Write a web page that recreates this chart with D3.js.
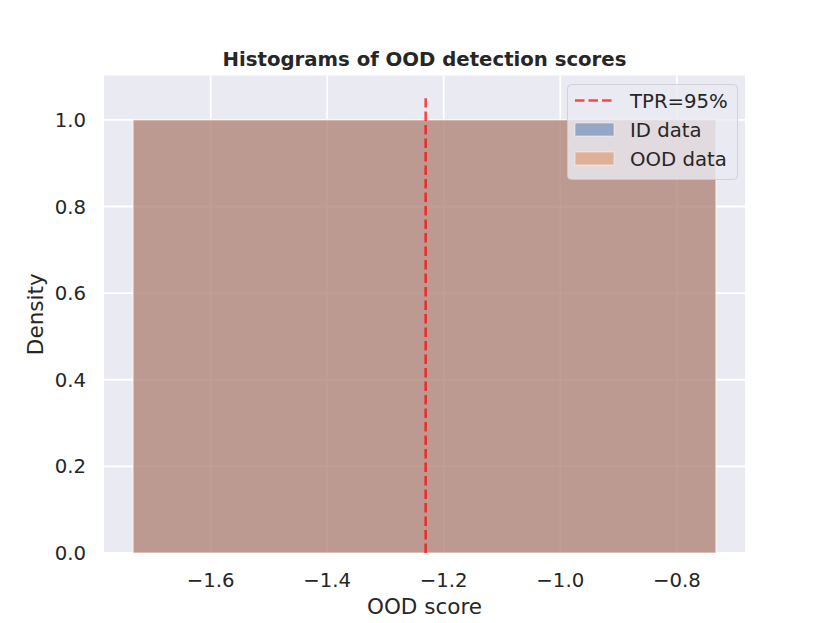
<!DOCTYPE html>
<html>
<head>
<meta charset="utf-8">
<script src="https://cdn.jsdelivr.net/npm/d3@7"></script>
<style>
  body { margin: 0; background: #fff; }
  text { font-family: "DejaVu Sans", sans-serif; fill: #262626; }
</style>
</head>
<body>
<svg id="chart" width="830" height="623"></svg>
<script>
// Histogram bins (one bin per series) and the threshold line
const binEdges = [-1.733, -0.733];
const idDensity = [1.0];
const oodDensity = [1.0];
const threshold = -1.231;
const thresholdTop = 1.05;
const xTicks = [-1.6, -1.4, -1.2, -1.0, -0.8];
const yTicks = [0.0, 0.2, 0.4, 0.6, 0.8, 1.0];
const legendLabels = ['TPR=95%', 'ID data', 'OOD data'];

const svg = d3.select('#chart');

const margin = {left: 104, right: 85, top: 75.5, bottom: 70};
const width = 830, height = 623;
const FONT = 19.7;

// matplotlib style 5% margins
const xScale = d3.scaleLinear()
  .domain([binEdges[0] - 0.05, binEdges[binEdges.length - 1] + 0.05])
  .range([margin.left, width - margin.right]);

const yScale = d3.scaleLinear()
  .domain([0, thresholdTop * 1.05])
  .range([height - margin.bottom, margin.top]);

// Background
svg.append('rect')
  .attr('x', margin.left)
  .attr('y', margin.top)
  .attr('width', width - margin.left - margin.right)
  .attr('height', height - margin.top - margin.bottom)
  .attr('fill', '#EAEAF2');

// Grid
svg.append('g')
  .selectAll('line')
  .data(xTicks)
  .enter()
  .append('line')
  .attr('x1', d => xScale(d))
  .attr('x2', d => xScale(d))
  .attr('y1', margin.top)
  .attr('y2', height - margin.bottom)
  .attr('stroke', '#fff')
  .attr('stroke-width', 1.8);

svg.append('g')
  .selectAll('line')
  .data(yTicks)
  .enter()
  .append('line')
  .attr('x1', margin.left)
  .attr('x2', width - margin.right)
  .attr('y1', d => yScale(d))
  .attr('y2', d => yScale(d))
  .attr('stroke', '#fff')
  .attr('stroke-width', 1.8);

// Bars
function drawBars(values, color) {
  svg.append('g')
    .selectAll('rect')
    .data(values)
    .enter()
    .append('rect')
    .attr('x', (d, i) => xScale(binEdges[i]))
    .attr('width', (d, i) => xScale(binEdges[i + 1]) - xScale(binEdges[i]))
    .attr('y', d => yScale(d))
    .attr('height', d => yScale(0) - yScale(d))
    .attr('fill', color)
    .attr('fill-opacity', 0.5)
    .attr('stroke', '#fff')
    .attr('stroke-opacity', 0.5)
    .attr('stroke-width', 1);
}
drawBars(idDensity, '#4C72B0');
drawBars(oodDensity, '#DD8452');

// Threshold line
svg.append('line')
  .attr('x1', xScale(threshold))
  .attr('x2', xScale(threshold))
  .attr('y1', yScale(0))
  .attr('y2', yScale(thresholdTop))
  .attr('stroke', '#FF0000')
  .attr('stroke-opacity', 0.7)
  .attr('stroke-width', 2.6)
  .attr('stroke-dasharray', '9.5,4');

// Tick labels
svg.append('g')
  .selectAll('text')
  .data(xTicks)
  .enter()
  .append('text')
  .attr('x', d => xScale(d))
  .attr('y', height - margin.bottom + 34)
  .attr('text-anchor', 'middle')
  .attr('font-size', FONT)
  .text(d => d3.format('.1f')(d).replace('-', '\u2212'));

svg.append('g')
  .selectAll('text')
  .data(yTicks)
  .enter()
  .append('text')
  .attr('x', margin.left - 18)
  .attr('y', d => yScale(d) + 7)
  .attr('text-anchor', 'end')
  .attr('font-size', FONT)
  .text(d => d3.format('.1f')(d));

// Axis labels and title
svg.append('text')
  .attr('x', (margin.left + width - margin.right) / 2)
  .attr('y', 614)
  .attr('text-anchor', 'middle')
  .attr('font-size', 21.5)
  .text('OOD score');

svg.append('text')
  .attr('transform', `translate(43, ${(margin.top + height - margin.bottom) / 2}) rotate(-90)`)
  .attr('text-anchor', 'middle')
  .attr('font-size', 21.5)
  .text('Density');

svg.append('text')
  .attr('x', (margin.left + width - margin.right) / 2)
  .attr('y', 66)
  .attr('text-anchor', 'middle')
  .attr('font-size', FONT)
  .attr('font-weight', 'bold')
  .text('Histograms of OOD detection scores');

// Legend
const legend = svg.append('g')
  .attr('transform', 'translate(567, 84)');

legend.append('rect')
  .attr('x', 0.5)
  .attr('y', 0.5)
  .attr('width', 170)
  .attr('height', 95)
  .attr('rx', 4)
  .attr('fill', '#EAEAF2')
  .attr('fill-opacity', 0.8)
  .attr('stroke', '#cccccc')
  .attr('stroke-opacity', 0.8);

legend.append('line')
  .attr('x1', 8)
  .attr('x2', 47)
  .attr('y1', 16.5)
  .attr('y2', 16.5)
  .attr('stroke', '#FF0000')
  .attr('stroke-opacity', 0.7)
  .attr('stroke-width', 2.6)
  .attr('stroke-dasharray', '9.5,4');

[['#4C72B0', 39], ['#DD8452', 68]].forEach(([c, y]) => {
  legend.append('rect')
    .attr('x', 8)
    .attr('y', y)
    .attr('width', 39)
    .attr('height', 13)
    .attr('fill', c)
    .attr('fill-opacity', 0.5)
    .attr('stroke', '#fff')
    .attr('stroke-opacity', 0.5);
});

legend.selectAll('.legend-label')
  .data(legendLabels)
  .enter()
  .append('text')
  .attr('class', 'legend-label')
  .attr('x', 63)
  .attr('y', (d, i) => 23.5 + i * 29)
  .attr('font-size', FONT)
  .text(d => d);
</script>
</body>
</html>
